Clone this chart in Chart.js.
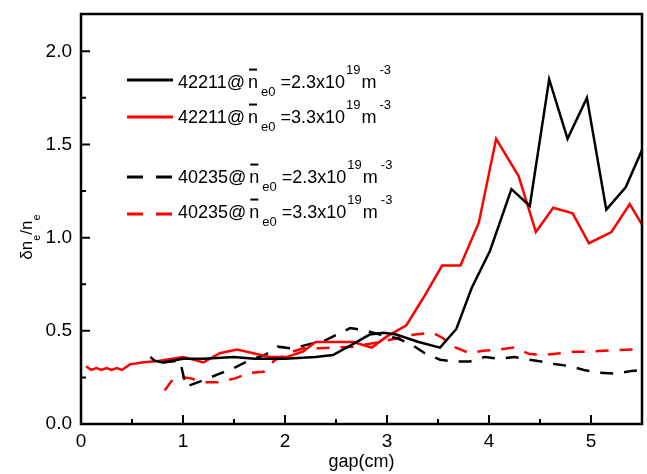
<!DOCTYPE html>
<html>
<head>
<meta charset="utf-8">
<script src="https://cdn.jsdelivr.net/npm/chart.js@4.4.1/dist/chart.umd.min.js"></script>
<style>
  body { margin: 0; background: #fff; }
  canvas { display: block; }
</style>
</head>
<body>
<canvas id="chart" width="647" height="474"></canvas>
<script>
// 42211 @ 2.3e19 (black solid)
const blackSolidX = [0.68, 0.72, 0.8, 1.0, 1.2, 1.5, 1.7, 2.0, 2.3, 2.47, 2.67, 2.83, 2.97, 3.09, 3.31, 3.52, 3.68, 3.83, 4.01, 4.22, 4.40, 4.59, 4.77, 4.96, 5.15, 5.34, 5.5];
const blackSolidY = [0.36, 0.34, 0.33, 0.35, 0.35, 0.36, 0.35, 0.35, 0.36, 0.37, 0.43, 0.48, 0.49, 0.48, 0.44, 0.41, 0.51, 0.73, 0.93, 1.26, 1.17, 1.85, 1.53, 1.75, 1.15, 1.27, 1.47];

// 42211 @ 3.3e19 (red solid)
const redSolidX = [0.05, 0.1, 0.15, 0.2, 0.25, 0.3, 0.35, 0.4, 0.48, 0.6, 0.77, 1.0, 1.2, 1.36, 1.53, 1.69, 1.85, 2.02, 2.18, 2.3, 2.67, 2.85, 3.0, 3.19, 3.36, 3.54, 3.72, 3.9, 4.07, 4.29, 4.46, 4.63, 4.82, 4.98, 5.2, 5.38, 5.5];
const redSolidY = [0.31, 0.29, 0.30, 0.29, 0.30, 0.29, 0.30, 0.29, 0.32, 0.33, 0.34, 0.36, 0.33, 0.38, 0.40, 0.38, 0.36, 0.36, 0.39, 0.44, 0.44, 0.41, 0.47, 0.53, 0.68, 0.85, 0.85, 1.08, 1.53, 1.33, 1.03, 1.16, 1.13, 0.97, 1.03, 1.18, 1.07];

// 40235 @ 2.3e19 (black dashed)
const blackDashX = [0.8, 0.97, 1.03, 1.2, 1.36, 1.5, 1.66, 1.8, 1.93, 2.07, 2.25, 2.4, 2.64, 2.8, 2.93, 3.1, 3.23, 3.37, 3.52, 3.67, 3.81, 3.96, 4.1, 4.25, 4.4, 4.51, 4.66, 4.8, 4.93, 5.09, 5.24, 5.4, 5.5];
const blackDashY = [0.33, 0.34, 0.2, 0.235, 0.27, 0.30, 0.345, 0.37, 0.415, 0.405, 0.43, 0.45, 0.515, 0.50, 0.48, 0.46, 0.43, 0.38, 0.345, 0.335, 0.335, 0.36, 0.35, 0.36, 0.345, 0.335, 0.32, 0.31, 0.29, 0.275, 0.27, 0.285, 0.29];

// 40235 @ 3.3e19 (red dashed)
const redDashX = [0.82, 0.9, 0.94, 1.07, 1.22, 1.35, 1.51, 1.66, 1.79, 1.9, 2.07, 2.18, 2.34, 2.67, 2.93, 3.1, 3.23, 3.45, 3.55, 3.65, 3.81, 3.94, 4.11, 4.24, 4.4, 4.53, 4.7, 4.83, 4.99, 5.12, 5.27, 5.45];
const redDashY = [0.18, 0.24, 0.255, 0.245, 0.224, 0.224, 0.245, 0.275, 0.28, 0.343, 0.388, 0.406, 0.406, 0.415, 0.44, 0.46, 0.477, 0.49, 0.46, 0.415, 0.38, 0.393, 0.40, 0.41, 0.375, 0.37, 0.38, 0.388, 0.388, 0.393, 0.397, 0.40];

// legend text pieces
const shots = ['42211', '42211', '40235', '40235'];
const densities = ['2.3', '3.3', '2.3', '3.3'];

const FONT = 'Arial, "Liberation Sans", sans-serif';

function pts(xs, ys) {
  return xs.map((x, i) => ({ x: x, y: ys[i] }));
}

function isStep(v, s) {
  return Math.abs(Math.round(v / s) * s - v) < 1e-6;
}

// text with sub/sup/overline pieces; gap = extra space after a piece
function drawRich(ctx, x, y, parts, size, small) {
  parts.forEach(p => {
    let fs = size, dy = 0;
    if (p.k === 'sub') { fs = small; dy = size * 0.45; }
    if (p.k === 'sup') { fs = small; dy = -size * 0.78; }
    ctx.font = fs + 'px ' + FONT;
    ctx.fillText(p.t, x, y + dy);
    const w = ctx.measureText(p.t).width;
    if (p.k === 'bar') {
      ctx.fillRect(x + 1, y - size * 1.08, w - 2, 2);
    }
    x += w + (p.gap || 0);
  });
  return x;
}

const framePlugin = {
  id: 'frame',
  afterDraw(chart) {
    const ctx = chart.ctx;
    const { left, right, top, bottom } = chart.chartArea;
    const xs = chart.scales.x, ys = chart.scales.y;
    ctx.save();
    ctx.strokeStyle = '#000';
    ctx.lineWidth = 2.5;
    ctx.strokeRect(left, top, right - left, bottom - top);

    // inward ticks
    ctx.lineWidth = 2;
    ctx.beginPath();
    xs.ticks.forEach(t => {
      if (!isStep(t.value, 0.5)) return;
      const px = xs.getPixelForValue(t.value);
      const len = isStep(t.value, 1) ? 9 : 5;
      ctx.moveTo(px, bottom);
      ctx.lineTo(px, bottom - len);
    });
    ys.ticks.forEach(t => {
      if (!isStep(t.value, 0.25)) return;
      const py = ys.getPixelForValue(t.value);
      const len = isStep(t.value, 0.5) ? 9 : 5;
      ctx.moveTo(left, py);
      ctx.lineTo(left + len, py);
    });
    ctx.stroke();

    // legend
    ctx.fillStyle = '#000';
    ctx.textBaseline = 'alphabetic';
    const lineY = [80, 117, 177, 214];
    const textY = [88, 123, 183, 218];
    chart.data.datasets.forEach((ds, i) => {
      ctx.strokeStyle = ds.borderColor;
      ctx.lineWidth = 3;
      ctx.setLineDash(ds.borderDash.length ? [16, 13] : []);
      ctx.beginPath();
      ctx.moveTo(127, lineY[i]);
      ctx.lineTo(173, lineY[i]);
      ctx.stroke();
      ctx.setLineDash([]);
      drawRich(ctx, 178, textY[i], [
        { t: shots[i] + '@', gap: 3 },
        { t: 'n', k: 'bar', gap: 3 },
        { t: 'e0', k: 'sub', gap: 5 },
        { t: '=' + densities[i] + 'x10', gap: 1 },
        { t: '19', k: 'sup', gap: 1 },
        { t: 'm', gap: 3 },
        { t: '-3', k: 'sup' }
      ], 18, 13);
    });

    // y axis title
    ctx.translate(32, 237);
    ctx.rotate(-Math.PI / 2);
    const parts = [{ t: 'δn' }, { t: 'e', k: 'sub' }, { t: '/n' }, { t: 'e', k: 'sub' }];
    let w = 0;
    parts.forEach(p => {
      ctx.font = (p.k ? 11 : 17) + 'px ' + FONT;
      w += ctx.measureText(p.t).width;
    });
    drawRich(ctx, -w / 2, 0, parts, 17, 11);
    ctx.restore();
  }
};

function lineSet(label, xs, ys, color, dash) {
  return {
    label: label,
    data: pts(xs, ys),
    borderColor: color,
    borderWidth: 2.5,
    borderDash: dash,
    pointRadius: 0,
    tension: 0,
    fill: false
  };
}

new Chart(document.getElementById('chart'), {
  type: 'line',
  data: {
    datasets: [
      lineSet('42211@ne0=2.3x10^19m^-3', blackSolidX, blackSolidY, '#000000', []),
      lineSet('42211@ne0=3.3x10^19m^-3', redSolidX, redSolidY, '#ff0000', []),
      lineSet('40235@ne0=2.3x10^19m^-3', blackDashX, blackDashY, '#000000', [13, 11]),
      lineSet('40235@ne0=3.3x10^19m^-3', redDashX, redDashY, '#ff0000', [13, 11])
    ]
  },
  options: {
    responsive: false,
    animation: false,
    layout: { padding: { top: 14, right: 5, left: 0, bottom: 0 } },
    plugins: { legend: { display: false }, tooltip: { enabled: false } },
    scales: {
      x: {
        type: 'linear',
        min: 0,
        max: 5.5,
        grid: { display: false, drawTicks: false },
        border: { display: false },
        ticks: {
          stepSize: 0.5,
          autoSkip: false,
          maxRotation: 0,
          padding: 6,
          color: '#000',
          font: { family: FONT, size: 19 },
          callback: v => isStep(v, 1) ? String(v) : ''
        },
        title: {
          display: true,
          text: 'gap(cm)',
          color: '#000',
          font: { family: FONT, size: 18 },
          padding: { top: 0, bottom: 1 }
        },
        afterFit: s => { s.height = 50; s.paddingLeft = 0; s.paddingRight = 0; }
      },
      y: {
        min: 0,
        max: 2.2,
        grid: { display: false, drawTicks: false },
        border: { display: false },
        ticks: {
          stepSize: 0.25,
          autoSkip: false,
          padding: 9,
          color: '#000',
          font: { family: FONT, size: 19 },
          callback: v => (isStep(v, 0.5) ? v.toFixed(1) : '')
        },
        afterFit: s => { s.width = 81; s.paddingTop = 0; s.paddingBottom = 0; }
      }
    }
  },
  plugins: [framePlugin]
});
</script>
</body>
</html>
